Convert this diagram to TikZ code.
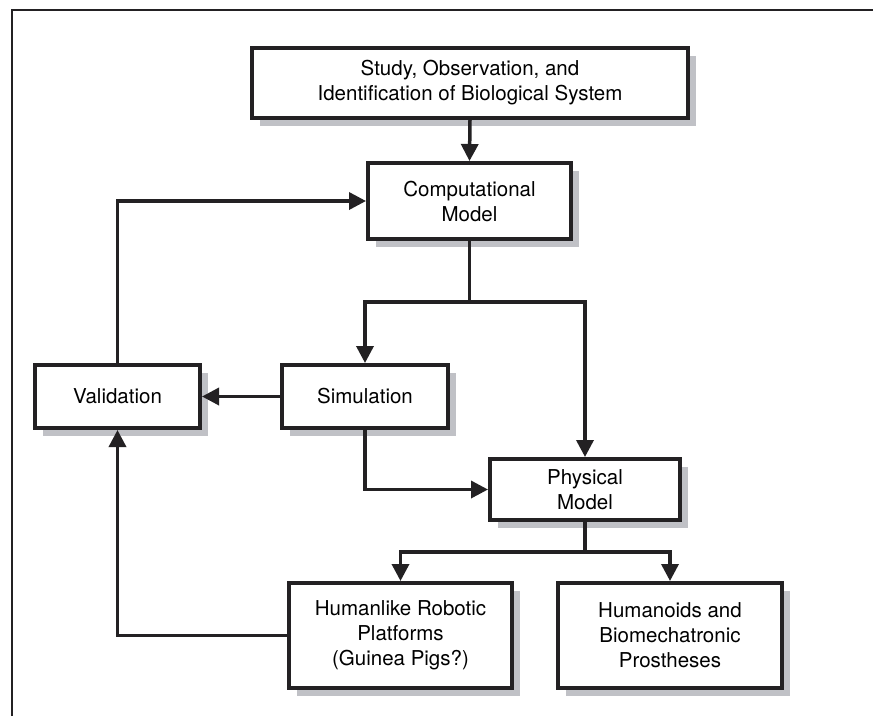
\documentclass[tikz,border=0pt]{standalone}
\usepackage{fontspec}
\setmainfont{TeX Gyre Heros}
\usetikzlibrary{arrows.meta,shadows}
\definecolor{shadowgray}{RGB}{192,193,198}
\definecolor{inkc}{RGB}{35,33,35}
\begin{document}
\begin{tikzpicture}[x=1pt,y=-1pt,
  box/.style={draw=inkc, line width=4pt, fill=white, align=center,
    inner sep=0pt, font=\fontsize{20.5}{25}\selectfont,
    drop shadow={shadow xshift=8pt, shadow yshift=-8pt, fill=shadowgray, opacity=1}},
  conn/.style={draw=inkc, line width=3.5pt},
  arr/.style={conn, -{Triangle[length=17pt,width=17pt]}},
  frame/.style={draw=inkc, line width=2pt}
]
\useasboundingbox[fill=white] (0,0) rectangle (873,716);
\draw[frame] (12,716) -- (12,10) -- (873,10);

\node[box, minimum width=436pt, minimum height=70pt] (top) at (470,83)
  {Study, Observation, and\\Identification of Biological System};
\node[box, minimum width=203pt, minimum height=76pt] (comp) at (469.5,201)
  {Computational\\Model};
\node[box, minimum width=165pt, minimum height=63pt] (valid) at (117.5,396.5)
  {Validation};
\node[box, minimum width=166pt, minimum height=63pt] (sim) at (365,396.5)
  {Simulation};
\node[box, minimum width=190pt, minimum height=61pt] (phys) at (585,489.5)
  {Physical\\Model};
\node[box, minimum width=223pt, minimum height=105pt] (hl) at (400.5,635.5)
  {Humanlike Robotic\\Platforms\\(Guinea Pigs?)};
\node[box, minimum width=224pt, minimum height=105pt] (ho) at (670,635.5)
  {Humanoids and\\Biomechatronic\\Prostheses};

\coordinate (j1) at (469.5,302);
\coordinate (j2) at (585,552);

\draw[arr] (top.south) -- (comp.north);
\draw[arr] (valid.north) |- (comp.west);
\draw[arr] (sim.west) -- (valid.east);
\draw[conn] (comp.south) -- (j1);
\draw[arr] (j1) -| (sim.north);
\draw[arr] (j1) -| (phys.north);
\draw[arr] (sim.south) |- (phys.west);
\draw[conn] (phys.south) -- (j2);
\draw[arr] (j2) -| (hl.north);
\draw[arr] (j2) -| (ho.north);
\draw[arr] (hl.west) -| (valid.south);
\end{tikzpicture}
\end{document}
